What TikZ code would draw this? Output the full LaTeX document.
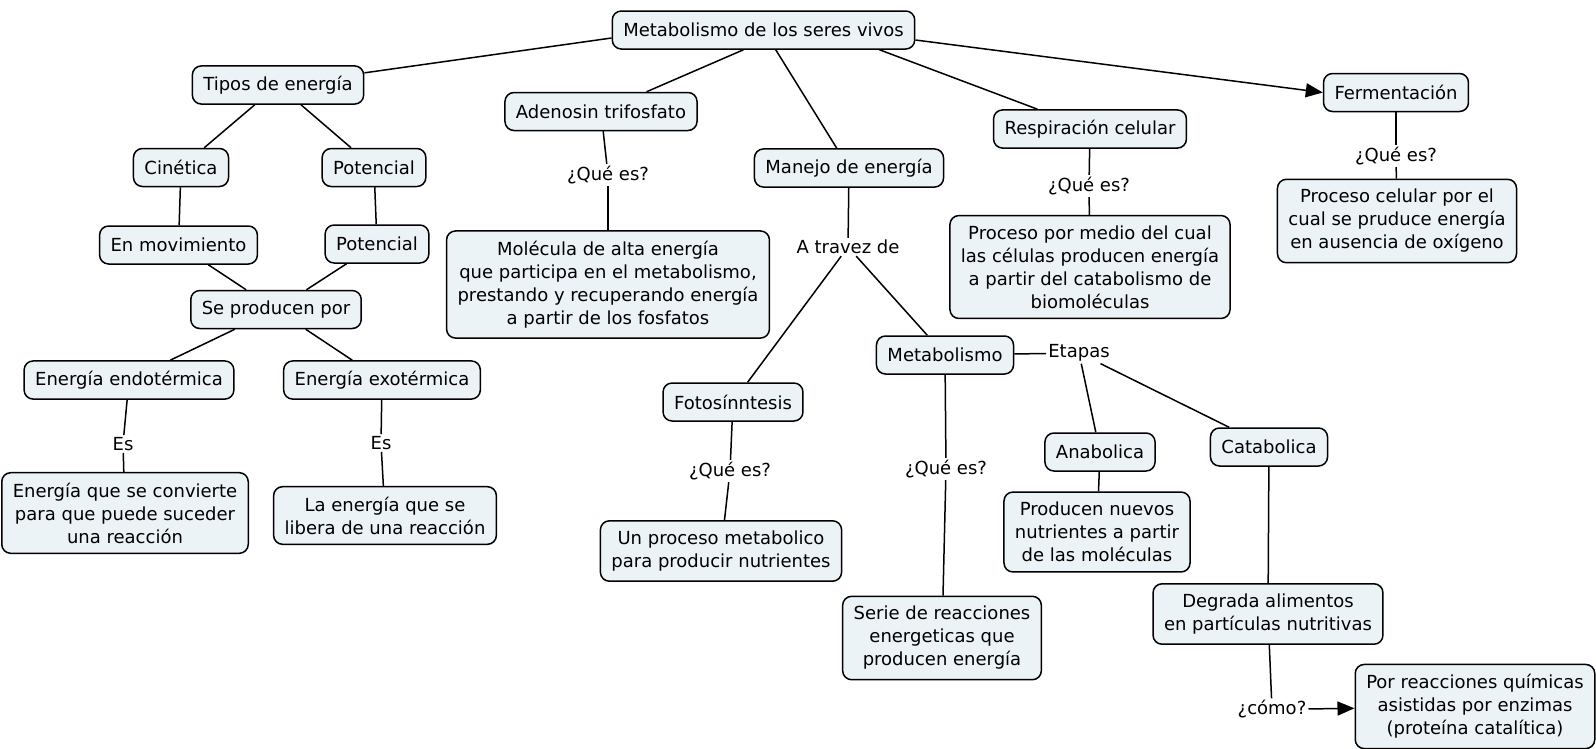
\documentclass[tikz,border=0pt]{standalone}
\usepackage{fontspec}
\setmainfont{DejaVu Sans}
\usetikzlibrary{arrows.meta}
\definecolor{boxfill}{RGB}{235,243,247}
\begin{document}
\begin{tikzpicture}[x=1pt,y=-1pt,
 concept/.style={draw=black, line width=1.5pt, fill=boxfill, rounded corners=9pt, inner xsep=11pt, inner ysep=10pt, minimum height=38pt, align=center, font=\fontsize{18}{23}\selectfont},
 lbl/.style={inner sep=2pt, font=\fontsize{18}{23}\selectfont},
 link/.style={line width=1.5pt},
 arr/.style={line width=1.5pt, -{Triangle[length=17pt,width=14pt]}}]
\useasboundingbox (0,0) rectangle (1596,748);

% concepts
\node[concept] (root) at (763.5,30) {Metabolismo de los seres vivos};
\node[concept] (tipos) at (278,85) {Tipos de energía};
\node[concept] (atp) at (601,111.5) {Adenosin trifosfato};
\node[concept] (manejo) at (849,168) {Manejo de energía};
\node[concept] (resp) at (1090,129) {Respiración celular};
\node[concept] (ferm) at (1396,92.5) {Fermentación};
\node[concept] (cin) at (181,167.5) {Cinética};
\node[concept] (pot1) at (374,167.5) {Potencial};
\node[concept] (mov) at (178.5,245) {En movimiento};
\node[concept] (pot2) at (377,244) {Potencial};
\node[concept] (prod) at (276,309.5) {Se producen por};
\node[concept] (endo) at (129,380) {Energía endotérmica};
\node[concept] (exo) at (382,380) {Energía exotérmica};
\node[concept] (def1) at (125,513) {Energía que se convierte\\para que puede suceder\\una reacción};
\node[concept] (def2) at (385,515.5) {La energía que se\\libera de una reacción};
\node[concept] (mol) at (608,284.5) {Molécula de alta energía\\que participa en el metabolismo,\\prestando y recuperando energía\\a partir de los fosfatos};
\node[concept] (procresp) at (1090,267) {Proceso por medio del cual\\las células producen energía\\a partir del catabolismo de\\biomoléculas};
\node[concept] (procferm) at (1397,221) {Proceso celular por el\\cual se pruduce energía\\en ausencia de oxígeno};
\node[concept] (metab) at (945,355) {Metabolismo};
\node[concept] (foto) at (733,402) {Fotosínntesis};
\node[concept] (unproc) at (721,551) {Un proceso metabolico\\para producir nutrientes};
\node[concept] (serie) at (942,638) {Serie de reacciones\\energeticas que\\producen energía};
\node[concept] (ana) at (1100,452) {Anabolica};
\node[concept] (cata) at (1269,447) {Catabolica};
\node[concept] (prodnue) at (1097,532) {Producen nuevos\\nutrientes a partir\\de las moléculas};
\node[concept] (degr) at (1268,614) {Degrada alimentos\\en partículas nutritivas};
\node[concept] (porreac) at (1475,706.5) {Por reacciones químicas\\asistidas por enzimas\\(proteína catalítica)};

% linking phrases
\node[lbl] (es1) at (123,444) {Es};
\node[lbl] (es2) at (381,443) {Es};
\node[lbl] (q1) at (608,175) {¿Qué es?};
\node[lbl] (atravez) at (848,247) {A travez de};
\node[lbl] (q2) at (1089,186) {¿Qué es?};
\node[lbl] (q3) at (1396,156) {¿Qué es?};
\node[lbl] (etapas) at (1079,353) {Etapas};
\node[lbl] (q4) at (730,471) {¿Qué es?};
\node[lbl] (q5) at (946,469) {¿Qué es?};
\node[lbl] (como) at (1272,709.5) {¿cómo?};

% connectors
\draw[link] ([yshift=-8pt]root.west) -- (tipos);
\draw[link] ([xshift=-20pt]root.south) -- (atp);
\draw[link] (root) -- (manejo);
\draw[link] ([xshift=-36pt]root.south east) -- (resp);
\draw[arr] ([yshift=-10pt]root.east) -- (ferm.west);
\draw[link] (tipos) -- (cin);
\draw[link] (tipos) -- (pot1);
\draw[link] (cin) -- (mov);
\draw[link] (pot1) -- (pot2);
\draw[link] (mov) -- (prod);
\draw[link] (pot2) -- (prod);
\draw[link] (prod) -- (endo);
\draw[link] (prod) -- (exo);
\draw[link] (endo) -- (es1);
\draw[link] (es1) -- (def1);
\draw[link] (exo) -- (es2);
\draw[link] (es2) -- (def2);
\draw[link] (atp) -- (q1);
\draw[link] (q1) -- (mol);
\draw[link] (manejo) -- (atravez);
\draw[link] (atravez) -- (foto);
\draw[link] (atravez) -- (metab);
\draw[link] (resp) -- (q2);
\draw[link] (q2) -- (procresp);
\draw[link] (ferm) -- (q3);
\draw[link] (q3) -- (procferm);
\draw[link] (foto) -- (q4);
\draw[link] (q4) -- (unproc);
\draw[link] (metab) -- (q5);
\draw[link] (q5) -- (serie);
\draw[link] (metab) -- (etapas);
\draw[link] (etapas) -- (ana);
\draw[link] (etapas) -- (cata);
\draw[link] (ana) -- (prodnue);
\draw[link] (cata) -- (degr);
\draw[link] (degr) -- (como);
\draw[arr] (como) -- (porreac);
\end{tikzpicture}
\end{document}
